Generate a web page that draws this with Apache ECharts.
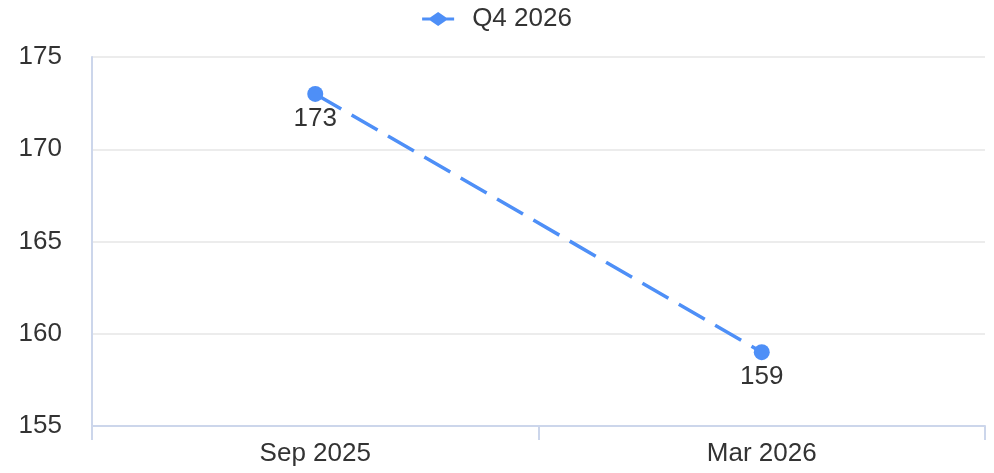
<!DOCTYPE html>
<html>
<head>
<meta charset="utf-8">
<script src="https://cdn.jsdelivr.net/npm/echarts@6/dist/echarts.min.js"></script>
<style>
  html, body { margin: 0; padding: 0; background: #fff; }
  #chart { width: 994px; height: 473px; }
</style>
</head>
<body>
<div id="chart"></div>
<script>
const categories = ['Sep 2025', 'Mar 2026']
const seriesName = 'Q4 2026'
const values = [173, 159]

const chart = echarts.init(document.getElementById('chart'))

// legend icon: line with a diamond in the middle
const legendIcon = 'path://M0,5.5 L8,5.5 L16,0 L24,5.5 L32,5.5 L32,8.5 L24,8.5 L16,14 L8,8.5 L0,8.5 Z'

chart.setOption({
  animation: false,
  textStyle: { fontFamily: 'Arial, "Liberation Sans", sans-serif' },
  legend: {
    top: 1,
    left: 'center',
    itemWidth: 32,
    itemHeight: 14,
    textStyle: { fontSize: 26, color: '#333', padding: [0, 0, 0, 13] },
    data: [{ name: seriesName, icon: legendIcon }]
  },
  grid: {
    left: 92,
    right: 9,
    top: 57,
    bottom: 47
  },
  xAxis: {
    type: 'category',
    data: categories,
    boundaryGap: true,
    axisLine: { lineStyle: { color: '#ccd6eb', width: 2 } },
    axisTick: { show: true, length: 14, lineStyle: { color: '#ccd6eb', width: 2 } },
    axisLabel: { fontSize: 26, color: '#333', margin: 15 }
  },
  yAxis: {
    type: 'value',
    min: 155,
    max: 175,
    interval: 5,
    axisLine: { show: true, lineStyle: { color: '#ccd6eb', width: 2 } },
    axisTick: { show: false },
    axisLabel: { fontSize: 26, color: '#333', margin: 30 },
    splitLine: { lineStyle: { color: '#e6e6e6', width: 1.5 } }
  },
  series: [{
    name: seriesName,
    type: 'line',
    data: values,
    symbol: 'circle',
    symbolSize: 16,
    itemStyle: { color: '#4e8ff7' },
    lineStyle: { width: 3.5, type: [30, 12], color: '#4e8ff7' },
    label: {
      show: true,
      position: 'bottom',
      distance: 4,
      fontSize: 26,
      color: '#333'
    }
  }]
})
</script>
</body>
</html>
